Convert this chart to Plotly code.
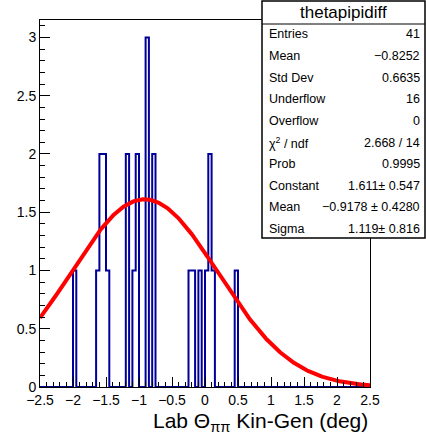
import numpy as np
import plotly.graph_objects as go

# ---- data ----
bin_lo_edges = [-2.0, -1.65, -1.6, -1.55, -1.5, -1.2, -1.1, -1.05, -0.9, -0.8,
                -0.25, -0.2, -0.1, 0.0, 0.05, 0.1, 0.45]
bin_counts = [1, 1, 2, 2, 1, 2, 1, 2, 3, 2,
              1, 1, 1, 1, 2, 1, 1]
n_bins = 100
x_min, x_max = -2.5, 2.5

fit_constant = 1.611
fit_mean = -0.9178
fit_sigma = 1.119

stat_title = "thetapipidiff"
stat_labels = ["Entries", "Mean", "Std Dev", "Underflow", "Overflow",
               "χ<sup>2</sup> / ndf", "Prob", "Constant", "Mean", "Sigma"]
stat_values = ["41", "\u22120.8252", "0.6635", "16", "0", "2.668 / 14", "0.9995",
               "1.611\u00b1 0.547", "\u22120.9178 \u00b1 0.4280", "1.119\u00b1 0.816"]

# ---- build histogram ----
width = (x_max - x_min) / n_bins
edges = np.round(np.linspace(x_min, x_max, n_bins + 1), 6)
counts = np.zeros(n_bins)
for lo, c in zip(bin_lo_edges, bin_counts):
    i = int(round((lo - x_min) / width))
    counts[i] = c
hx = list(edges)
hy = list(counts) + [counts[-1]]

fx = np.linspace(x_min, x_max, 400)
fy = fit_constant * np.exp(-0.5 * ((fx - fit_mean) / fit_sigma) ** 2)

W, H = 426, 437
L, R, T, B = 40, 56, 20, 50
pw, ph = W - L - R, H - T - B

def px(x):
    return (x - L) / pw

def py(y):
    return (H - B - y) / ph

fig = go.Figure()
fig.add_trace(go.Scatter(x=hx, y=hy, mode="lines", line=dict(shape="hv", color="#000099", width=2),
                         hoverinfo="skip", showlegend=False))
fig.add_trace(go.Scatter(x=fx, y=fy, mode="lines", line=dict(color="#ff0000", width=4),
                         hoverinfo="skip", showlegend=False))

font = "Liberation Sans, Arial, Helvetica, sans-serif"
axis_common = dict(showgrid=False, zeroline=False, showline=True, mirror=True,
                   linecolor="black", linewidth=1, ticks="inside", ticklen=10,
                   tickcolor="black", tickwidth=1,
                   tickfont=dict(family=font, size=14, color="black"))
fig.update_xaxes(range=[x_min, x_max], tick0=-2.5, dtick=0.5,
                 minor=dict(dtick=0.1, tick0=-2.5, ticks="inside", ticklen=5, tickcolor="black"),
                 **axis_common)
fig.update_yaxes(range=[0, 3.15], tick0=0, dtick=0.5,
                 minor=dict(dtick=0.1, tick0=0, ticks="inside", ticklen=5, tickcolor="black"),
                 **axis_common)

shapes = []
annotations = []
# stats box
bx0, bx1, by0, by1 = 262, 425, 1, 238
shapes.append(dict(type="rect", xref="paper", yref="paper", x0=px(bx0), x1=px(bx1),
                   y0=py(by1), y1=py(by0), line=dict(color="black", width=1.5),
                   fillcolor="white", layer="above"))
shapes.append(dict(type="line", xref="paper", yref="paper", x0=px(bx0), x1=px(bx1),
                   y0=py(24), y1=py(24), line=dict(color="black", width=1), layer="above"))
annotations.append(dict(xref="paper", yref="paper", x=px((bx0 + bx1) / 2), y=py(12.5),
                        text=stat_title, showarrow=False, xanchor="center", yanchor="middle",
                        font=dict(family=font, size=17, color="black")))
for i, (lab, val) in enumerate(zip(stat_labels, stat_values)):
    yy = 34.5 + 21.6 * i
    annotations.append(dict(xref="paper", yref="paper", x=px(267), y=py(yy), text=lab,
                            showarrow=False, xanchor="left", yanchor="middle",
                            font=dict(family=font, size=12.5, color="black")))
    annotations.append(dict(xref="paper", yref="paper", x=px(422), y=py(yy), text=val,
                            showarrow=False, xanchor="right", yanchor="middle",
                            font=dict(family=font, size=12.5, color="black")))

annotations.append(dict(xref="paper", yref="paper", x=px(370), y=py(422),
                        text="Lab \u0398<sub>\u03c0\u03c0</sub> Kin-Gen (deg)",
                        showarrow=False, xanchor="right", yanchor="middle",
                        font=dict(family=font, size=21, color="black")))

fig.update_layout(width=W, height=H, margin=dict(l=L, r=R, t=T, b=B),
                  paper_bgcolor="white", plot_bgcolor="white",
                  shapes=shapes, annotations=annotations, showlegend=False)

fig.write_html("out.html")
